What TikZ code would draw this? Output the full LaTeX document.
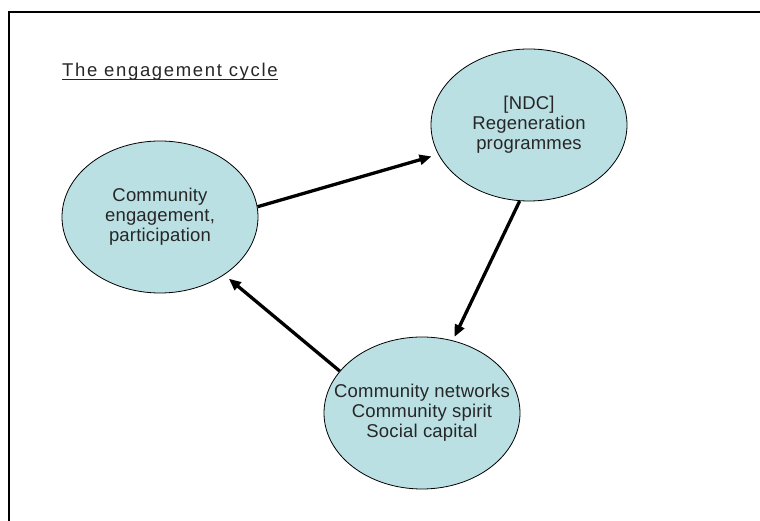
\documentclass[tikz,border=0pt]{standalone}
\usepackage{fontspec}
\setmainfont{Liberation Sans}
\newfontfamily\titlefont[LetterSpace=9]{Liberation Sans}
\newfontfamily\bubblefont[LetterSpace=1]{Liberation Sans}
\usetikzlibrary{shapes.geometric,arrows.meta}
\definecolor{bubblefill}{RGB}{187,224,227}

\begin{document}
\begin{tikzpicture}[x=1pt,y=1pt,
  bubble/.style={ellipse,draw=black,line width=0.8pt,fill=bubblefill,
    minimum width=196pt,minimum height=152pt,inner sep=0pt},
  bubbletext/.style={align=center,text=black!85,font=\bubblefont\fontsize{18.5}{20}\selectfont},
  cyclearrow/.style={line width=3.3pt,-{Triangle[length=12pt,width=10pt]}}]
  \useasboundingbox (0,0) rectangle (760,521);
  % frame: top and left edges only
  \draw[line width=2pt] (9,0) -- (9,508.5) -- (760,508.5);
  % heading
  \node[anchor=base west,inner sep=0pt,text=black!85,font=\titlefont\fontsize{18.5}{20}\selectfont] (title) at (62,444) {The engagement cycle};
  \draw[line width=1pt,black!85] ([yshift=-2.5pt]title.base west) -- ([yshift=-2.5pt]title.base east);
  % the three stages
  \node[bubble] (engage) at (160,304) {};
  \node[bubble] (ndc) at (529,396) {};
  \node[bubble] (network) at (422,108) {};
  \node[bubbletext] (engage-text) at (engage) {Community\\engagement,\\participation};
  \node[bubbletext] (ndc-text) at (ndc) {[NDC]\\Regeneration\\programmes};
  \node[bubbletext] (network-text) at (network) {Community networks\\Community spirit\\Social capital};
  % cycle
  \draw[cyclearrow,shorten >=7pt] (engage.6) -- (ndc.198);
  \draw[cyclearrow,shorten >=4pt] (ndc.263) -- (network.67);
  \draw[cyclearrow,shorten >=6pt] (network.153) -- (engage.318);
\end{tikzpicture}
\end{document}
